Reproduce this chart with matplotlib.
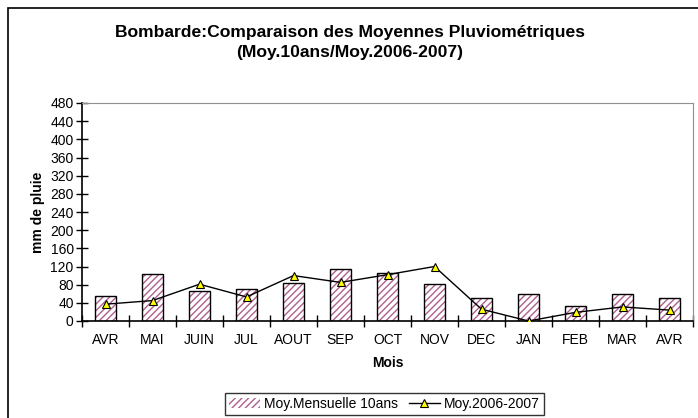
import matplotlib.pyplot as plt
from matplotlib.patches import Rectangle
from matplotlib.lines import Line2D
from matplotlib.patches import Patch

plt.rcParams['font.family'] = ['Liberation Sans', 'DejaVu Sans']
plt.rcParams['hatch.linewidth'] = 1.0

mois = ["AVR", "MAI", "JUIN", "JUL", "AOUT", "SEP", "OCT", "NOV", "DEC", "JAN", "FEB", "MAR", "AVR"]
moy_10ans = [54, 103, 65, 71, 83, 114, 105, 81, 51, 59, 32, 59, 51]
moy_2006_2007 = [37, 45, 81, 53, 100, 85, 102, 120, 26, 0, 19, 31, 24]
y_ticks = list(range(0, 481, 40))

hatch_col = "#b06090"

W, H = 698, 418
fig = plt.figure(figsize=(W / 100, H / 100), dpi=100)

# outer chart frame (right and bottom are cut off in the original)
fig.patches.append(Rectangle((8 / W, -0.1), 1.2, 1 - 8 / H + 0.1, transform=fig.transFigure,
                             fill=False, edgecolor="black", linewidth=1.2, clip_on=False))

ax = fig.add_axes([82 / W, 1 - 321 / H, (693 - 82) / W, (321 - 103) / H])

x = list(range(len(mois)))
ax.bar(x, moy_10ans, width=0.44, color="white", edgecolor=hatch_col, hatch="/////", linewidth=0, zorder=2)
ax.bar(x, moy_10ans, width=0.44, fill=False, edgecolor="black", linewidth=1.0, zorder=3)
ax.plot(x, moy_2006_2007, color="black", linewidth=1.0, marker="^", markersize=6,
        markerfacecolor="#ffff00", markeredgecolor="black", markeredgewidth=0.8, zorder=4)

ax.set_xlim(-0.5, len(mois) - 0.5)
ax.set_ylim(0, 480)
ax.set_yticks(y_ticks)
ax.set_xticks(x)
ax.set_xticklabels(mois, fontsize=10)
ax.tick_params(axis="x", which="major", length=0, pad=9)
ax.set_xticks([i + 0.5 for i in range(-1, len(mois))], minor=True)
ax.tick_params(axis="x", which="minor", direction="inout", length=8, width=1)
ax.tick_params(axis="y", direction="inout", length=8, width=1, labelsize=10, pad=2)

for s in ["top", "right"]:
    ax.spines[s].set_color("#909090")
for s in ["left", "bottom"]:
    ax.spines[s].set_color("black")
    ax.spines[s].set_linewidth(1.2)

ax.set_xlabel("Mois", fontsize=10, fontweight="bold", labelpad=6)
ax.set_ylabel("mm de pluie", fontsize=10, fontweight="bold", labelpad=4)

fig.text(350 / W, 1 - 33 / H, "Bombarde:Comparaison des Moyennes Pluviométriques",
         ha="center", va="center", fontsize=12.6, fontweight="bold")
fig.text(350 / W, 1 - 53 / H, "(Moy.10ans/Moy.2006-2007)",
         ha="center", va="center", fontsize=12.6, fontweight="bold")

handles = [Patch(facecolor="white", edgecolor=hatch_col, hatch="/////", linewidth=0),
           Line2D([0], [0], color="black", linewidth=1.0, marker="^", markersize=6,
                  markerfacecolor="#ffff00", markeredgecolor="black", markeredgewidth=0.8)]
leg = fig.legend(handles, ["Moy.Mensuelle 10ans", "Moy.2006-2007"], loc="upper left",
                 bbox_to_anchor=(225 / W, 1 - 393 / H), borderaxespad=0, ncol=2, fontsize=10,
                 frameon=True, fancybox=False, edgecolor="black", handlelength=2.2,
                 handletextpad=0.3, columnspacing=0.8, borderpad=0.3)
leg.get_frame().set_linewidth(1.0)

fig.savefig("out.png", dpi=100)
